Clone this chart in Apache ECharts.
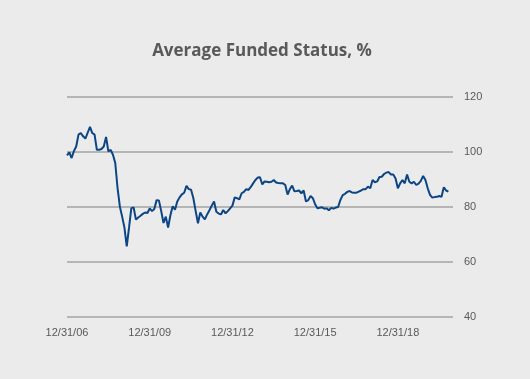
<!DOCTYPE html>
<html>
<head>
<meta charset="utf-8">
<script src="https://cdn.jsdelivr.net/npm/echarts@6/dist/echarts.min.js"></script>
<style>
html,body{margin:0;padding:0;background:#ebebeb;}
#chart{width:530px;height:379px;}
</style>
</head>
<body>
<div id="chart"></div>
<script>
// Monthly observations, month-end from 12/31/06
const startYear = 2006, startMonth = 12, monthCount = 169; // axis runs 12/31/06 .. 12/31/20
const tickLabels = ["12/31/06", "12/31/09", "12/31/12", "12/31/15", "12/31/18"];
const yTicks = [40, 60, 80, 100, 120];
const fundedStatus = [
  98.8, 99.9, 97.8, 100.3, 102, 106.3, 106.9, 105.7, 104.9, 107, 109.1, 106.9,
  106.3, 100.8, 100.8, 101.1, 102, 105.5, 100.2, 100.8, 99, 96, 86.9, 80.2,
  76.5, 72.5, 65.7, 72.5, 79.6, 79.8, 75.4, 76.2, 76.8, 77.5, 78, 77.8,
  79.5, 78.5, 79.3, 82.5, 82.4, 78.5, 74.2, 76.5, 72.5, 77, 80.3, 79,
  82, 83.5, 84.6, 85.2, 87.7, 86.5, 86.3, 83.2, 78.5, 74.1, 78, 76.5,
  75.5, 77.3, 78.8, 80.5, 82, 78.3, 77.6, 77.3, 78.9, 77.7, 78.5, 79.5,
  80.5, 83.5, 83.2, 82.8, 85, 85.5, 86.5, 86.2, 87.3, 88.6, 89.8, 90.7,
  90.8, 88.2, 89.3, 89.2, 89, 89.2, 89.8, 88.9, 88.7, 88.6, 88.6, 88,
  84.5, 86.5, 87.8, 85.7, 85.8, 86, 85, 86, 82, 82.5, 84, 83.2,
  81, 79.5, 79.7, 79.9, 79.4, 79.5, 78.8, 79.7, 79.4, 79.8, 80, 82.6,
  84.3, 84.8, 85.5, 85.8, 85.3, 85.2, 85.2, 85.6, 86, 86.5, 86.5, 87.4,
  86.8, 89.8, 89, 89.3, 90.9, 91, 92, 92.5, 92.7, 91.8, 91.8, 90.4,
  86.8, 88.6, 89.8, 88.6, 91.8, 89.2, 88.6, 89.2, 88, 88.5, 89.5, 91.3,
  89.8, 86.8, 84.4, 83.4, 83.6, 83.7, 84, 83.7, 87.2, 86, 85.6
];

const categories = [];
for (let i = 0; i < monthCount; i++) {
  const total = (startMonth - 1) + i;
  const y = startYear + Math.floor(total / 12);
  const m = (total % 12) + 1;
  const lastDay = new Date(y, m, 0).getDate();
  categories.push(m + "/" + lastDay + "/" + String(y % 100).padStart(2, "0"));
}

const chart = echarts.init(document.getElementById('chart'), null, {renderer: 'canvas'});
chart.setOption({
  backgroundColor: '#ebebeb',
  animation: false,
  title: {
    text: 'Average Funded Status, %',
    left: 257,
    top: 38,
    textAlign: 'center',
    textStyle: {
      fontFamily: 'Open Sans',
      fontWeight: 'bold',
      fontSize: 17,
      color: '#595959'
    }
  },
  grid: {left: 67, right: 77, top: 97, bottom: 62, containLabel: false},
  xAxis: {
    type: 'category',
    data: categories,
    boundaryGap: false,
    axisLine: {show: false},
    axisTick: {show: false},
    splitLine: {show: false},
    axisLabel: {
      interval: 0,
      margin: 10,
      color: '#595959',
      fontFamily: 'Liberation Sans',
      fontSize: 11,
      formatter: function (v) { return tickLabels.indexOf(v) >= 0 ? v : ''; }
    }
  },
  yAxis: {
    type: 'value',
    position: 'right',
    min: yTicks[0],
    max: yTicks[yTicks.length - 1],
    interval: 20,
    axisLine: {show: false},
    axisTick: {show: false},
    splitLine: {lineStyle: {color: '#a3a3a3', width: 1.5}},
    axisLabel: {
      margin: 11,
      color: '#595959',
      fontFamily: 'Liberation Sans',
      fontSize: 11
    }
  },
  series: [{
    type: 'line',
    data: fundedStatus,
    showSymbol: false,
    symbol: 'none',
    lineStyle: {color: '#0b4585', width: 2},
    emphasis: {disabled: true}
  }]
});
</script>
</body>
</html>
